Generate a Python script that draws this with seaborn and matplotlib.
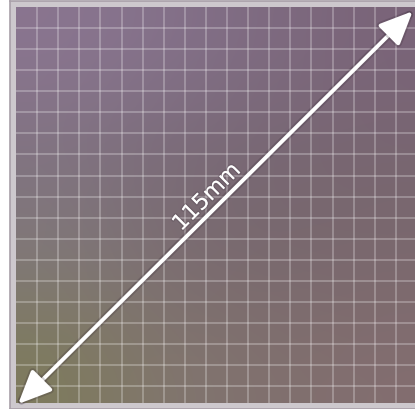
import numpy as np
import matplotlib
matplotlib.use('Agg')
import matplotlib.pyplot as plt
import matplotlib.patheffects as pe
import seaborn as sns

# Data: grid of 19 x 19 cells, diagonal labelled 115mm
n_cells = 19
grid_lines = list(range(1, n_cells))
label_text = '115mm'

# Colours of the photographed plate (4 x 4 control points, top row first)
plate_colors = [
    ['#8A7590', '#84718A', '#7E6A80', '#7A6479'],
    ['#807380', '#7A6B78', '#776772', '#786670'],
    ['#81797A', '#7A6B70', '#78686D', '#7A686E'],
    ['#7E7B5C', '#827670', '#80706E', '#836E70'],
]

sns.set_theme(style="white")

fig = plt.figure(figsize=(4.15, 4.10), dpi=100)
fig.patch.set_facecolor('white')

# ---- Outer light-gray frame ----------------------------------------------------
frame = fig.add_axes([10 / 415, 0, 420 / 415, 408 / 410])
frame.set_facecolor('#CDC8CD')
frame.set_xticks([])
frame.set_yticks([])
for s in frame.spines.values():
    s.set_color('#A89FA8')
    s.set_linewidth(1.2)

# ---- Inner plate with grid -----------------------------------------------------
ax = fig.add_axes([16 / 415, 6 / 410, 410 / 415, 396 / 410])
x_max = 19.43
y_max = 18.8

rgb = np.array([[matplotlib.colors.to_rgb(c) for c in row] for row in plate_colors])
ax.imshow(rgb, extent=(0, x_max, y_max, 0), interpolation='bicubic', aspect='auto', zorder=0)

ax.set_xlim(0, x_max)
ax.set_ylim(y_max, 0)
ax.set_xticks(grid_lines)
ax.set_yticks(grid_lines)
ax.tick_params(length=0, labelbottom=False, labelleft=False)
ax.grid(True, color='white', alpha=0.3, linewidth=1.2)
ax.set_axisbelow(False)
for s in ax.spines.values():
    s.set_visible(False)

# ---- Double-headed diagonal arrow ---------------------------------------------
start = (0.1, y_max + 0.05)
end = (18.8, 0.2)
ax.annotate('', xy=end, xytext=start, annotation_clip=False,
            arrowprops=dict(arrowstyle='<|-|>,head_length=1.35,head_width=0.6',
                            mutation_scale=15, color='white', lw=2.8,
                            shrinkA=0, shrinkB=0,
                            path_effects=[pe.withStroke(linewidth=5.5, foreground=(0.2, 0.15, 0.2, 0.22))]))

# Label along the arrow
mid = ((start[0] + end[0]) / 2, (start[1] + end[1]) / 2)
ax.annotate(label_text, xy=mid, xytext=(-6, 7.5), textcoords='offset points',
            rotation=45, rotation_mode='anchor', ha='center', va='center',
            fontsize=16, color='white', family='DejaVu Sans',
            path_effects=[pe.withStroke(linewidth=2, foreground=(0.3, 0.25, 0.3, 0.25))])

fig.savefig('out.png', dpi=100)
